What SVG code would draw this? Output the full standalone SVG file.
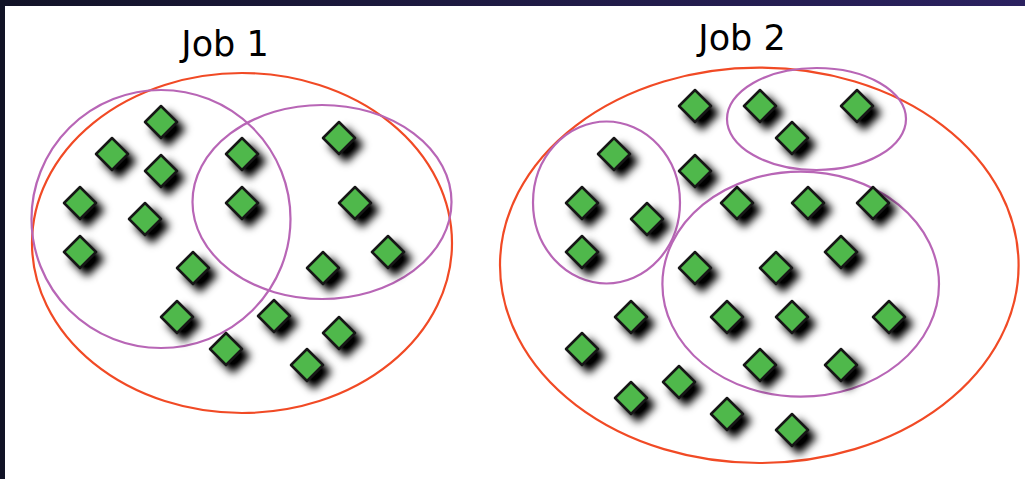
<svg xmlns="http://www.w3.org/2000/svg" xmlns:xlink="http://www.w3.org/1999/xlink" width="1025" height="479" viewBox="0 0 1025 479">
<defs>
<linearGradient id="band" x1="0" y1="0" x2="1" y2="0">
<stop offset="0" stop-color="#121327"/>
<stop offset="1" stop-color="#2b2160"/>
</linearGradient>
<filter id="sh" x="-60%" y="-60%" width="240%" height="240%">
<feGaussianBlur in="SourceAlpha" stdDeviation="4.2"/>
<feOffset dx="6.5" dy="6.5" result="b"/>
<feComponentTransfer><feFuncA type="linear" slope="1.1"/></feComponentTransfer>
<feMerge><feMergeNode/><feMergeNode in="SourceGraphic"/></feMerge>
</filter>
<path id="dia" d="M0,-16 L16,0 L0,16 L-16,0 Z" fill="#4fb84b" stroke="#151515" stroke-width="2.5" stroke-linejoin="round"/>
</defs>
<style>
.job{fill:none;stroke:#f14a25;stroke-width:2.2}
.grp{fill:none;stroke:#b866b6;stroke-width:2.2}
.lbl{font-family:"DejaVu Sans",sans-serif;font-size:35px;fill:#000;text-anchor:middle}
.t{filter:url(#sh)}
</style>
<rect x="0" y="0" width="1025" height="479" fill="#ffffff"/>
<rect x="0" y="0" width="1025" height="6" fill="url(#band)"/>
<rect x="0" y="0" width="5" height="479" fill="#111326"/>

<g id="job1">
<text class="lbl" x="225" y="56">Job 1</text>
<ellipse class="job" cx="242" cy="243" rx="210" ry="170"/>
</g>
<g id="job1-groupA"><ellipse class="grp" cx="161" cy="219" rx="129.5" ry="129"/></g>
<g id="job1-groupB"><ellipse class="grp" cx="322" cy="202" rx="129.5" ry="97"/></g>

<g id="job2">
<text class="lbl" x="742" y="50">Job 2</text>
<ellipse class="job" cx="759.3" cy="265.3" rx="259.3" ry="197.7"/>
</g>
<g id="job2-groupA"><ellipse class="grp" cx="606.5" cy="202.5" rx="73.5" ry="81"/></g>
<g id="job2-groupB"><ellipse class="grp" cx="816.5" cy="119" rx="89.5" ry="51"/></g>
<g id="job2-groupC"><ellipse class="grp" cx="800.7" cy="284.2" rx="138.3" ry="112.5"/></g>

<g id="job1-tasks">
<g id="j1t1" class="t"><use xlink:href="#dia" x="161" y="122"/></g>
<g id="j1t2" class="t"><use xlink:href="#dia" x="112" y="154"/></g>
<g id="j1t3" class="t"><use xlink:href="#dia" x="161" y="171"/></g>
<g id="j1t4" class="t"><use xlink:href="#dia" x="242" y="154"/></g>
<g id="j1t5" class="t"><use xlink:href="#dia" x="339" y="138"/></g>
<g id="j1t6" class="t"><use xlink:href="#dia" x="80" y="203"/></g>
<g id="j1t7" class="t"><use xlink:href="#dia" x="145" y="219"/></g>
<g id="j1t8" class="t"><use xlink:href="#dia" x="242" y="203"/></g>
<g id="j1t9" class="t"><use xlink:href="#dia" x="355" y="203"/></g>
<g id="j1t10" class="t"><use xlink:href="#dia" x="80" y="252"/></g>
<g id="j1t11" class="t"><use xlink:href="#dia" x="193" y="268"/></g>
<g id="j1t12" class="t"><use xlink:href="#dia" x="388" y="252"/></g>
<g id="j1t13" class="t"><use xlink:href="#dia" x="323" y="268"/></g>
<g id="j1t14" class="t"><use xlink:href="#dia" x="177" y="317"/></g>
<g id="j1t15" class="t"><use xlink:href="#dia" x="274" y="316"/></g>
<g id="j1t16" class="t"><use xlink:href="#dia" x="339" y="333"/></g>
<g id="j1t17" class="t"><use xlink:href="#dia" x="226" y="349"/></g>
<g id="j1t18" class="t"><use xlink:href="#dia" x="307" y="365"/></g>
</g>

<g id="job2-tasks">
<g id="j2t1" class="t"><use xlink:href="#dia" x="695" y="106"/></g>
<g id="j2t2" class="t"><use xlink:href="#dia" x="760" y="106"/></g>
<g id="j2t3" class="t"><use xlink:href="#dia" x="857" y="106"/></g>
<g id="j2t4" class="t"><use xlink:href="#dia" x="792" y="138"/></g>
<g id="j2t5" class="t"><use xlink:href="#dia" x="614" y="154"/></g>
<g id="j2t6" class="t"><use xlink:href="#dia" x="695" y="171"/></g>
<g id="j2t7" class="t"><use xlink:href="#dia" x="582" y="203"/></g>
<g id="j2t8" class="t"><use xlink:href="#dia" x="647" y="219"/></g>
<g id="j2t9" class="t"><use xlink:href="#dia" x="737" y="203"/></g>
<g id="j2t10" class="t"><use xlink:href="#dia" x="808" y="203"/></g>
<g id="j2t11" class="t"><use xlink:href="#dia" x="873" y="203"/></g>
<g id="j2t12" class="t"><use xlink:href="#dia" x="582" y="252"/></g>
<g id="j2t13" class="t"><use xlink:href="#dia" x="841" y="252"/></g>
<g id="j2t14" class="t"><use xlink:href="#dia" x="695" y="268"/></g>
<g id="j2t15" class="t"><use xlink:href="#dia" x="776" y="268"/></g>
<g id="j2t16" class="t"><use xlink:href="#dia" x="631" y="317"/></g>
<g id="j2t17" class="t"><use xlink:href="#dia" x="727" y="317"/></g>
<g id="j2t18" class="t"><use xlink:href="#dia" x="792" y="317"/></g>
<g id="j2t19" class="t"><use xlink:href="#dia" x="889" y="317"/></g>
<g id="j2t20" class="t"><use xlink:href="#dia" x="582" y="349"/></g>
<g id="j2t21" class="t"><use xlink:href="#dia" x="760" y="365"/></g>
<g id="j2t22" class="t"><use xlink:href="#dia" x="841" y="365"/></g>
<g id="j2t23" class="t"><use xlink:href="#dia" x="679" y="382"/></g>
<g id="j2t24" class="t"><use xlink:href="#dia" x="631" y="398"/></g>
<g id="j2t25" class="t"><use xlink:href="#dia" x="727" y="414"/></g>
<g id="j2t26" class="t"><use xlink:href="#dia" x="792" y="430"/></g>
</g>
</svg>
